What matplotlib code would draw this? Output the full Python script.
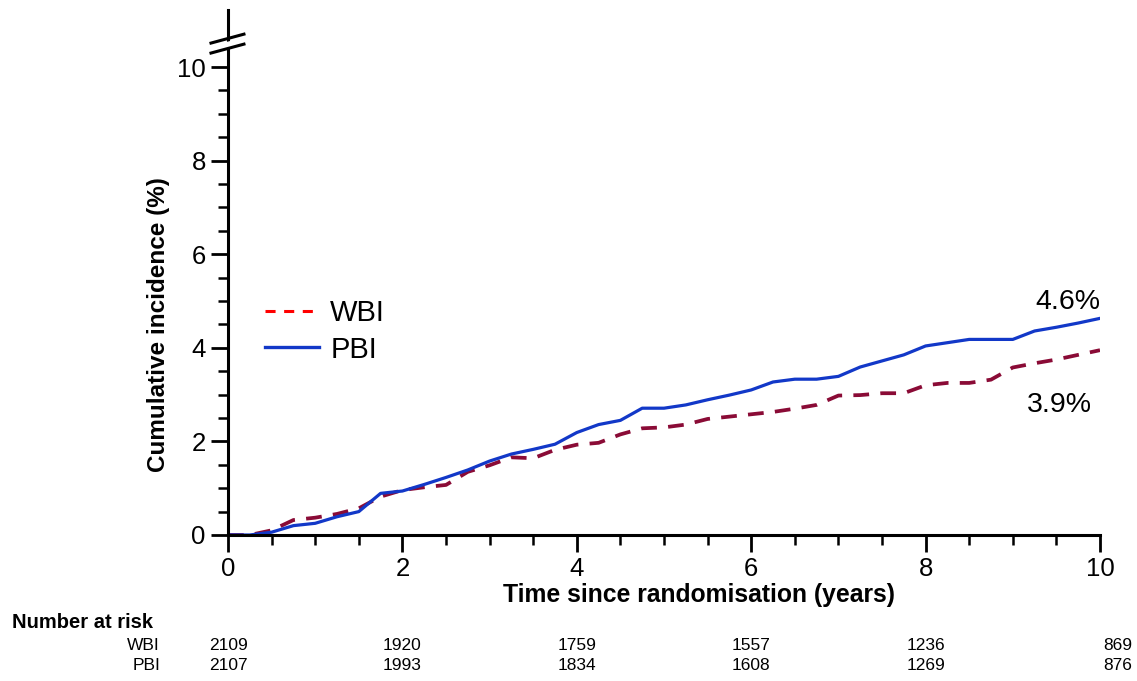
import numpy as np
import matplotlib
matplotlib.use('Agg')
import matplotlib.pyplot as plt
import matplotlib.transforms as mtransforms
from matplotlib import font_manager
from matplotlib.lines import Line2D
from matplotlib.ticker import MultipleLocator, FixedLocator

plt.rcParams['font.family'] = ['Liberation Sans', 'DejaVu Sans']

# fonte estreita para a tabela, se existir
nomes = {f.name for f in font_manager.fontManager.ttflist}
fonte_tabela = 'Liberation Sans Narrow' if 'Liberation Sans Narrow' in nomes else 'Liberation Sans'
tam_tabela = 14 if fonte_tabela == 'Liberation Sans Narrow' else 12.5

# Dados (incidência cumulativa, %)
tempo = np.arange(0, 10.01, 0.25)
wbi = [0, 0, 0.1, 0.32, 0.37, 0.45, 0.57, 0.82, 0.96, 1.02, 1.07, 1.35, 1.49, 1.66, 1.64,
       1.82, 1.93, 1.97, 2.15, 2.28, 2.3, 2.36, 2.48, 2.53, 2.58, 2.63, 2.7, 2.78, 2.98,
       2.99, 3.03, 3.03, 3.2, 3.25, 3.25, 3.32, 3.58, 3.67, 3.75, 3.85, 3.95]
pbi = [0, 0, 0.06, 0.2, 0.25, 0.39, 0.5, 0.89, 0.94, 1.08, 1.23, 1.39, 1.58, 1.73, 1.83,
       1.94, 2.19, 2.36, 2.45, 2.71, 2.71, 2.78, 2.89, 2.99, 3.1, 3.27, 3.33, 3.33, 3.39,
       3.59, 3.72, 3.85, 4.04, 4.11, 4.18, 4.18, 4.18, 4.36, 4.44, 4.53, 4.63]

risco_tempos = [0, 2, 4, 6, 8, 10]
risco_wbi = [2109, 1920, 1759, 1557, 1236, 869]
risco_pbi = [2107, 1993, 1834, 1608, 1269, 876]

cor_wbi = '#8a0b36'
cor_pbi = '#1238c8'

fig = plt.figure(figsize=(11.37, 6.81), dpi=100)
W, H = 1137, 681
ax = fig.add_axes([228 / W, 1 - 535 / H, 872 / W, 525 / H])

ax.plot(tempo, wbi, color=cor_wbi, lw=2.7, ls=(0, (4.2, 3.0)))
ax.plot(tempo, pbi, color=cor_pbi, lw=2.3)

ax.set_xlim(0, 10)
ax.set_ylim(0, 11.22)
ax.xaxis.set_major_locator(MultipleLocator(2))
ax.xaxis.set_minor_locator(MultipleLocator(0.5))
ax.set_yticks([0, 2, 4, 6, 8, 10])
ax.yaxis.set_minor_locator(FixedLocator(np.arange(0.5, 10.01, 0.5)))
ax.tick_params(which='major', length=12, width=2, labelsize=18.5, pad=4)
ax.tick_params(which='minor', length=7, width=1.8)

for s in ['top', 'right']:
    ax.spines[s].set_visible(False)
for s in ['left', 'bottom']:
    ax.spines[s].set_linewidth(2.2)

ax.set_ylabel('Cumulative incidence (%)', fontsize=17.5, fontweight='bold')
ax.yaxis.set_label_coords(-0.066, 0.40)
ax.set_xlabel('Time since randomisation (years)', fontsize=17.8, fontweight='bold')
ax.xaxis.set_label_coords(0.54, -0.092)

# Quebra do eixo y
gap = plt.Polygon([[-0.02, 0.930], [0.02, 0.947], [0.02, 0.935], [-0.02, 0.918]],
                  closed=True, transform=ax.transAxes, color='white', clip_on=False, zorder=5)
ax.add_patch(gap)
ax.plot([-0.0195, 0.0183], [0.937, 0.954], color='black', lw=2.2,
        transform=ax.transAxes, clip_on=False, zorder=6)
ax.plot([-0.0195, 0.0183], [0.918, 0.935], color='black', lw=2.2,
        transform=ax.transAxes, clip_on=False, zorder=6)

# Legenda
handles = [Line2D([], [], color='red', lw=2.2, ls=(0, (3.3, 2.8))),
           Line2D([], [], color=cor_pbi, lw=2.4)]
ax.legend(handles, ['WBI', 'PBI'], loc='upper left', bbox_to_anchor=(0.042, 0.45),
          frameon=False, fontsize=21, handlelength=1.85, handletextpad=0.4,
          labelspacing=0.3, borderpad=0, borderaxespad=0)

# Valores finais
ax.text(10, 4.98, '4.6%', fontsize=20.5, ha='right', va='center')
ax.text(9.91, 2.78, '3.9%', fontsize=20.5, ha='right', va='center')

# Tabela de número em risco
fig.text(12 / W, 1 - 622 / H, 'Number at risk', fontsize=14.5, fontweight='bold', va='center')
fig.text(160 / W, 1 - 645 / H, 'WBI', fontsize=tam_tabela, family=fonte_tabela,
         ha='right', va='center')
fig.text(160 / W, 1 - 665 / H, 'PBI', fontsize=tam_tabela, family=fonte_tabela,
         ha='right', va='center')
trans = mtransforms.blended_transform_factory(ax.transData, fig.transFigure)
for i, t in enumerate(risco_tempos):
    tr = trans
    if i == len(risco_tempos) - 1:
        tr = mtransforms.offset_copy(trans, fig=fig, x=18, y=0, units='dots')
    ax.text(t, 1 - 645 / H, str(risco_wbi[i]), fontsize=tam_tabela, family=fonte_tabela,
            ha='center', va='center', transform=tr, clip_on=False)
    ax.text(t, 1 - 665 / H, str(risco_pbi[i]), fontsize=tam_tabela, family=fonte_tabela,
            ha='center', va='center', transform=tr, clip_on=False)

fig.savefig('out.png', dpi=100)
